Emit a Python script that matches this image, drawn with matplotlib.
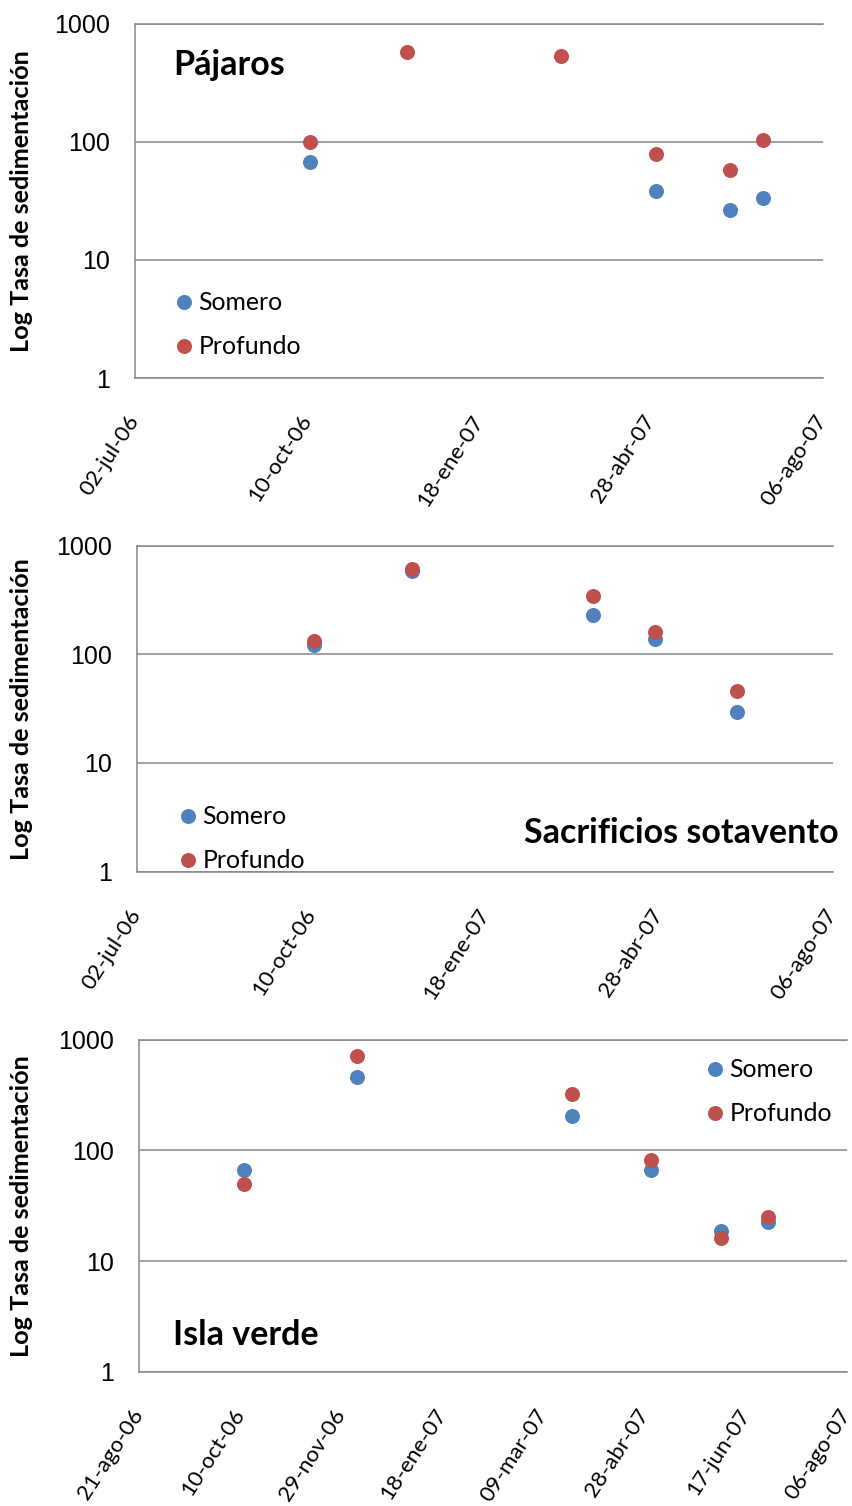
import numpy as np
import pandas as pd
import matplotlib
matplotlib.use('Agg')
import matplotlib.pyplot as plt

# Data (sedimentation rate, log scale)
p1_dates = ['2006-10-12', '2006-12-07', '2007-03-07', '2007-05-01', '2007-06-13', '2007-07-02']
p1_somero = [67, np.nan, np.nan, 38.5, 26.7, 33.7]
p1_profundo = [100, 575, 532, 79, 57.5, 104]

p2_dates = ['2006-10-12', '2006-12-07', '2007-03-21', '2007-04-26', '2007-06-12']
p2_somero = [122, 585, 231, 137, 29.3]
p2_profundo = [133, 607, 346, 161, 45.7]

p3_dates = ['2006-10-12', '2006-12-07', '2007-03-23', '2007-05-01', '2007-06-05', '2007-06-28']
p3_somero = [66, 460, 203, 66, 18.8, 22.5]
p3_profundo = [50, 712, 323, 82, 16.3, 24.9]

ticks12 = ['2006-07-02', '2006-10-10', '2007-01-18', '2007-04-28', '2007-08-06']
labels12 = ['02-jul-06', '10-oct-06', '18-ene-07', '28-abr-07', '06-ago-07']
ticks3 = ['2006-08-21', '2006-10-10', '2006-11-29', '2007-01-18',
          '2007-03-09', '2007-04-28', '2007-06-17', '2007-08-06']
labels3 = ['21-ago-06', '10-oct-06', '29-nov-06', '18-ene-07',
           '09-mar-07', '28-abr-07', '17-jun-07', '06-ago-07']

yticks = [1, 10, 100, 1000]
ylabels = ['1', '10', '100', '1000']

BLUE = '#4F81BD'
RED = '#C0504D'
GRID = '#868686'
FONT = 'Lato'

fig = plt.figure(figsize=(8.53, 15.06), dpi=100)


def draw_panel(rect, dates, somero, profundo, ticks, labels, title, title_xy, title_ha, legend_xy):
    ax = fig.add_axes(rect)
    d = pd.to_datetime(dates)
    ax.plot(d, somero, 'o', color=BLUE, ms=10.8, mec='none', label='Somero')
    ax.plot(d, profundo, 'o', color=RED, ms=10.8, mec='none', label='Profundo')
    ax.set_yscale('log')
    ax.set_ylim(1, 1000)
    ax.set_xlim(pd.Timestamp(ticks[0]), pd.Timestamp(ticks[-1]))
    ax.set_yticks(yticks)
    ax.set_yticklabels(ylabels, fontsize=18, family='Liberation Sans')
    ax.yaxis.set_minor_locator(matplotlib.ticker.NullLocator())
    ax.set_xticks(pd.to_datetime(ticks))
    ax.set_xticklabels(labels, rotation=57, ha='right', va='center',
                       rotation_mode='anchor', fontsize=16, family=FONT)
    ax.tick_params(axis='y', length=0, pad=18)
    ax.tick_params(axis='x', length=0, pad=28)
    ax.grid(axis='y', color=GRID, lw=1.1)
    for s in ['left', 'bottom', 'top']:
        ax.spines[s].set_color(GRID)
        ax.spines[s].set_linewidth(1.1)
    ax.spines['right'].set_visible(False)
    ax.set_ylabel('Log Tasa de sedimentación', fontsize=18.2, fontweight='bold', family=FONT)
    # keep the label right edge at ~33 px from the figure's left
    ax.yaxis.set_label_coords((33 - rect[0] * 853) / (rect[2] * 853), 0.5)
    ax.text(title_xy[0], title_xy[1], title, transform=ax.transAxes, ha=title_ha, va='center',
            fontsize=24.5, fontweight='bold', family=FONT)
    ax.legend(loc='upper left', bbox_to_anchor=legend_xy, frameon=False, borderpad=0,
              handletextpad=0.0, handlelength=1.2, labelspacing=0.85, numpoints=1,
              prop={'family': FONT, 'size': 17.8})
    return ax


draw_panel([0.1583, 0.749, 0.8062, 0.2351], p1_dates, p1_somero, p1_profundo,
           ticks12, labels12, 'Pájaros', (0.055, 0.884), 'left', (0.031, 0.28))
draw_panel([0.1603, 0.4212, 0.816, 0.2165], p2_dates, p2_somero, p2_profundo,
           ticks12, labels12, 'Sacrificios sotavento', (1.009, 0.119), 'right', (0.034, 0.241))
draw_panel([0.163, 0.0892, 0.8297, 0.2203], p3_dates, p3_somero, p3_profundo,
           ticks3, labels3, 'Isla verde', (0.048, 0.111), 'left', (0.775, 0.982))

fig.savefig('out.png', dpi=100)
